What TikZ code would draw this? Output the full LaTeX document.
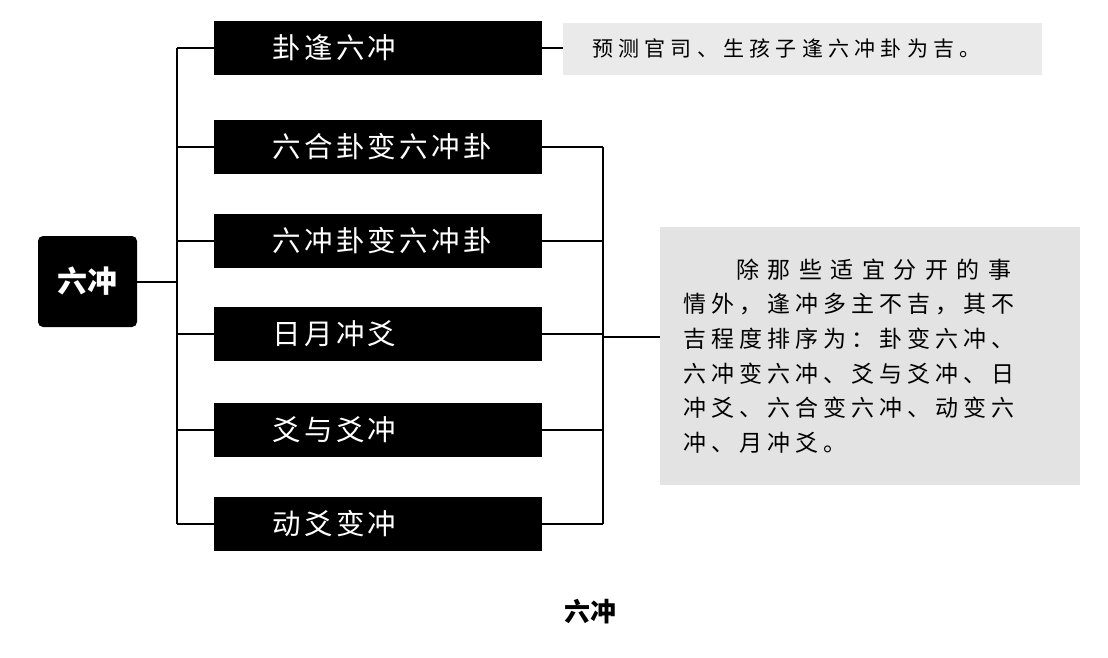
\documentclass[tikz,border=0pt]{standalone}
\usepackage{fontspec}
\usepackage{tikz}
\usetikzlibrary{positioning}
\setmainfont{Noto Sans CJK SC}
\definecolor{paper}{HTML}{E3E3E3}
\definecolor{paperlight}{HTML}{EAEAEA}
\newcommand{\rowfont}{\fontsize{28.5pt}{30pt}\selectfont\addfontfeature{LetterSpace=12}}
\newcommand{\notefont}{\fontsize{21pt}{24pt}\selectfont\addfontfeature{LetterSpace=25}}
\newcommand{\orderfont}{\fontsize{23pt}{34.6pt}\selectfont\addfontfeature{LetterSpace=22}}

\begin{document}
\begin{tikzpicture}[x=1pt,y=-1pt,
	rowbox/.style={fill=black,text=white,anchor=west,text width=328pt,minimum height=54pt,
		inner xsep=0pt,inner ysep=0pt,align=left,font=\rowfont,execute at begin node={\hspace*{58pt}}},
	rootbox/.style={fill=black,text=white,rounded corners=5pt,minimum width=99pt,minimum height=91pt,
		font=\fontsize{30pt}{32pt}\selectfont\bfseries},
	notebox/.style={fill=#1,text=black,align=left,inner ysep=0pt},
	thickline/.style={line width=1.8pt},
	thinline/.style={line width=1.2pt}]
	\useasboundingbox[fill=white] (0,0) rectangle (1108,658);
	
	\node[rootbox] (root) at (87.5,281.5) {六冲};
	\node[rowbox] (r1) at (214,48) {卦逢六冲};
	\node[rowbox] (r2) at (214,147) {六合卦变六冲卦};
	\node[rowbox] (r3) at (214,241) {六冲卦变六冲卦};
	\node[rowbox] (r4) at (214,334) {日月冲爻};
	\node[rowbox] (r5) at (214,430) {爻与爻冲};
	\node[rowbox] (r6) at (214,524) {动爻变冲};
	
	% notes on the right
	\node[notebox=paperlight,anchor=west,text width=421pt,inner xsep=29pt,minimum height=52pt,font=\notefont]
		(good) at (563,49) {预测官司、生孩子逢六冲卦为吉。};
	\node[notebox=paper,anchor=west,text width=374pt,inner xsep=23pt,minimum height=258pt,font=\orderfont]
		(order) at (660,356) {\hspace*{53pt}{\addfontfeature{LetterSpace=37}除那些适宜分开的事}\\情外，逢冲多主不吉，其不\\吉程度排序为：卦变六冲、\\六冲变六冲、爻与爻冲、日\\冲爻、六合变六冲、动变六\\冲、月冲爻。};
	
	\coordinate (tl) at (177,282);
	\coordinate (tr) at (603,337);
	\draw[thickline] (root.east |- tl) -- (tl);
	\draw[thickline] (tl |- r1.west) -- (tl |- r6.west);
	\foreach \r in {r1,r2,r3,r4,r5,r6} \draw[thickline] (tl |- \r.west) -- (\r.west);
	
	\draw[thinline] (r1.east) -- (good.west |- r1.east);
	\draw[thinline] (tr |- r2.east) -- (tr |- r6.east);
	\foreach \r in {r2,r3,r4,r5,r6} \draw[thinline] (\r.east) -- (tr |- \r.east);
	\draw[thinline] (tr) -- (order.west |- tr);
	
	\node[font=\fontsize{26pt}{28pt}\selectfont\bfseries] (title) at (590,612) {六冲};
\end{tikzpicture}
\end{document}
